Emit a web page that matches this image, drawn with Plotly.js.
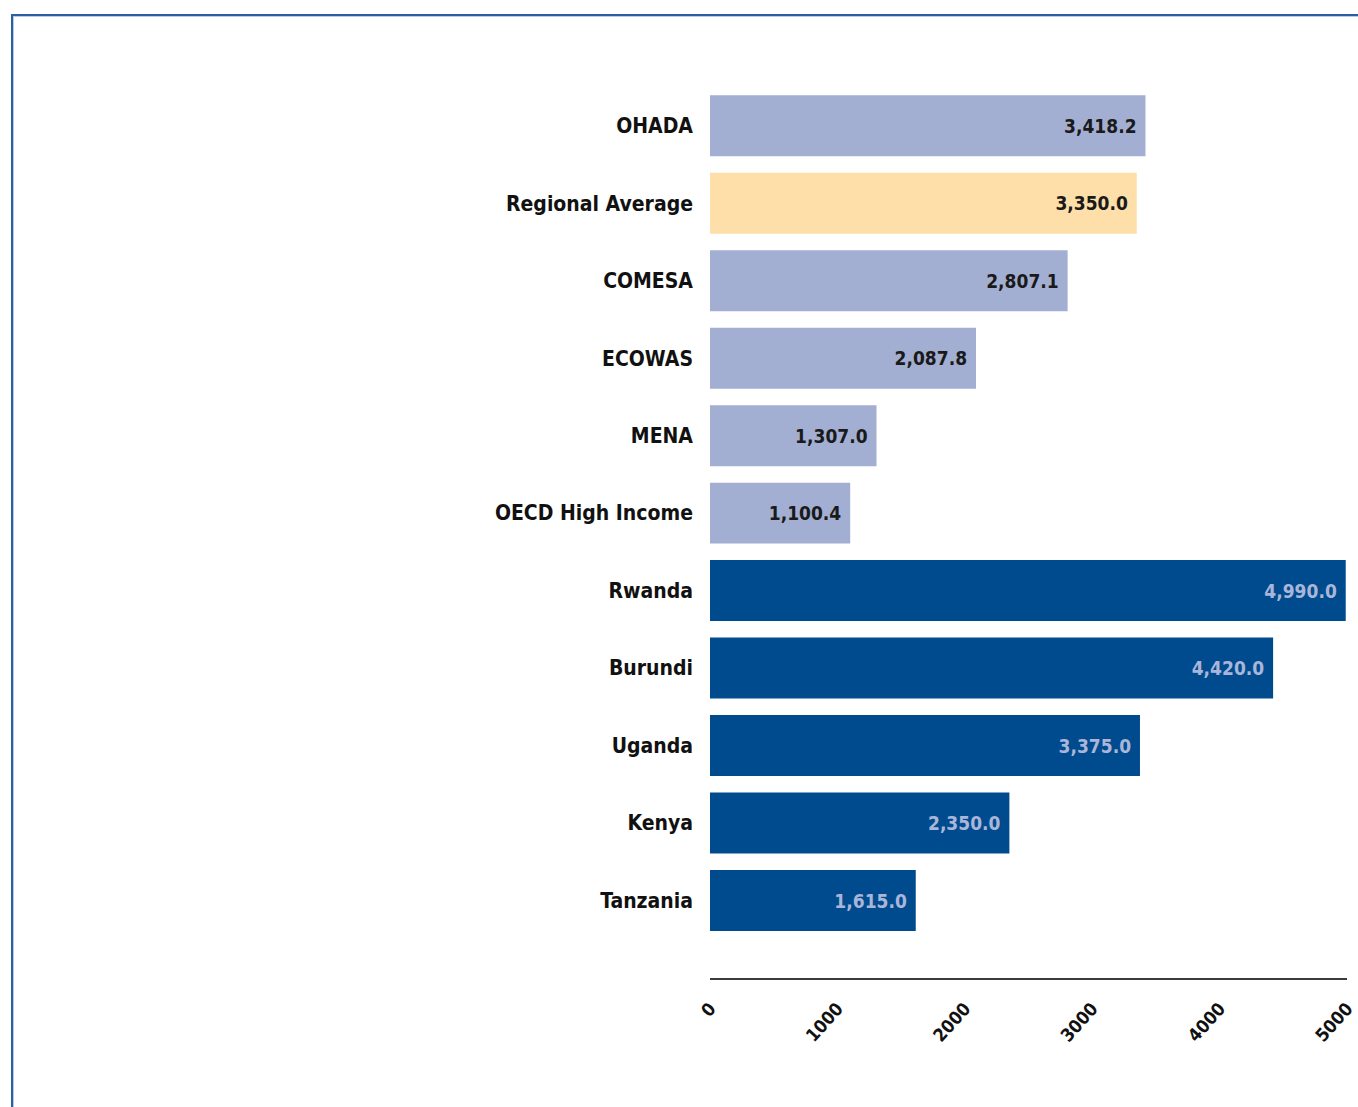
<!DOCTYPE html>
<html>
<head>
<meta charset="utf-8">
<script src="https://cdn.plot.ly/plotly-3.0.1.min.js"></script>
<style>
  html, body { margin: 0; padding: 0; background: #ffffff; }
  #wrap { position: relative; width: 1358px; height: 1107px; }
  #chart { position: absolute; left: 0; top: 0; width: 1358px; height: 1107px; }
  #frame { position: absolute; left: 11px; top: 14px; right: 0; bottom: 0;
           border-top: 2px solid #2b5fa3; border-left: 2px solid #2b5fa3; pointer-events: none; }
  #frame2 { position: absolute; left: 13px; top: 16px; right: 0; bottom: 0;
           border-top: 1px solid #b9cbe4; border-left: 1px solid #b9cbe4; pointer-events: none; }
</style>
</head>
<body>
<div id="wrap">
  <div id="chart"></div>
  <div id="frame"></div>
  <div id="frame2"></div>
</div>
<script>
// Data
const categories = ["OHADA", "Regional Average", "COMESA", "ECOWAS", "MENA", "OECD High Income",
                    "Rwanda", "Burundi", "Uganda", "Kenya", "Tanzania"];
const values = [3418.2, 3350.0, 2807.1, 2087.8, 1307.0, 1100.4, 4990.0, 4420.0, 3375.0, 2350.0, 1615.0];
const groups = ["benchmark", "average", "benchmark", "benchmark", "benchmark", "benchmark",
                "country", "country", "country", "country", "country"];
const xTicks = [0, 1000, 2000, 3000, 4000, 5000];

const fillColor = { benchmark: "#a3afd2", average: "#fedfa9", country: "#004b8e" };
const textColor = { benchmark: "#1a1a1a", average: "#1a1a1a", country: "#a9b6d9" };
const FONT = "DejaVu Sans Condensed, DejaVu Sans, sans-serif";

const trace = {
  type: "bar",
  orientation: "h",
  y: categories,
  x: values,
  marker: { color: groups.map(g => fillColor[g]), line: { width: 0 } },
  texttemplate: "%{x:,.1f}\u00a0",
  textposition: "inside",
  insidetextanchor: "end",
  constraintext: "none",
  textfont: { family: FONT, size: 19, weight: "bold",
              color: groups.map(g => textColor[g]) },
  hoverinfo: "skip",
  cliponaxis: false
};

const layout = {
  width: 1358,
  height: 1107,
  paper_bgcolor: "#ffffff",
  plot_bgcolor: "#ffffff",
  showlegend: false,
  margin: { l: 710, r: 11, t: 86.75, b: 129, pad: 0 },
  bargap: 0.213,
  font: { family: FONT, color: "#111111" },
  xaxis: {
    range: [0, 5000],
    tickvals: xTicks,
    ticktext: xTicks.map(String),
    tickangle: -48,
    tickfont: { size: 18, weight: "bold", color: "#111111" },
    showgrid: false,
    zeroline: false,
    showline: true,
    linecolor: "#3c3c3c",
    linewidth: 2,
    ticks: "",
    ticklabelstandoff: 11
  },
  yaxis: {
    type: "category",
    range: [11, -0.5],
    tickfont: { size: 21, weight: "bold", color: "#111111" },
    showgrid: false,
    zeroline: false,
    showline: false,
    ticks: "",
    ticklabelstandoff: 16
  }
};

Plotly.newPlot("chart", [trace], layout, { displayModeBar: false, staticPlot: true });
</script>
</body>
</html>
